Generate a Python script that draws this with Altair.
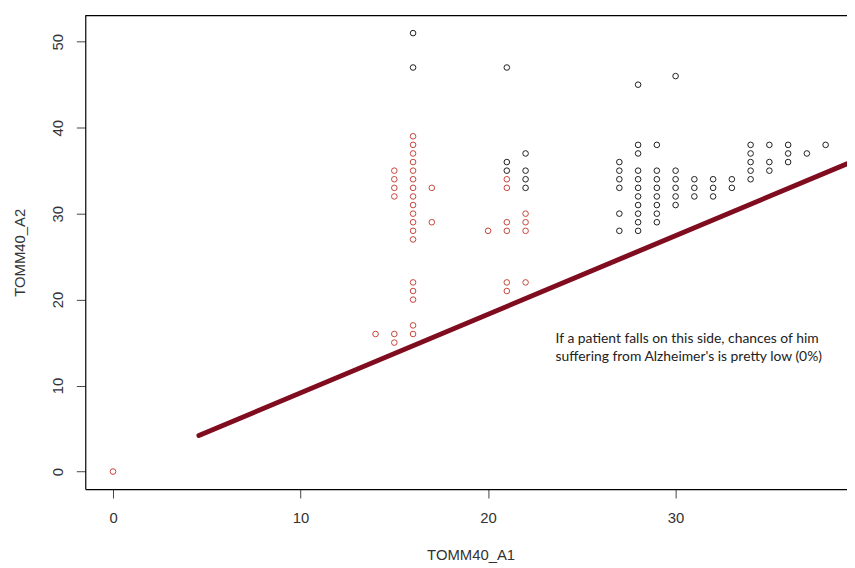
import altair as alt
import pandas as pd

# Red (class 0) points
red_x = [0, 14, 15, 15, 15, 15, 15, 15,
         16, 16, 16, 16, 16, 16, 16, 16, 16, 16, 16, 16, 16,
         16, 16, 16, 16, 16,
         17, 17, 20,
         21, 21, 21, 21, 21, 21,
         22, 22, 22, 22]
red_y = [0, 16, 35, 34, 33, 32, 16, 15,
         39, 38, 37, 36, 35, 34, 33, 32, 31, 30, 29, 28, 27,
         22, 21, 20, 17, 16,
         33, 29, 28,
         34, 33, 29, 28, 22, 21,
         30, 29, 28, 22]

# Black (class 1) points
black_x = [16, 16, 21, 21, 21,
           22, 22, 22, 22,
           27, 27, 27, 27, 27, 27,
           28, 28, 28, 28, 28, 28, 28, 28, 28, 28, 28,
           29, 29, 29, 29, 29, 29, 29, 29,
           30, 30, 30, 30, 30, 30,
           31, 31, 31, 32, 32, 32, 33, 33,
           34, 34, 34, 34, 34,
           35, 35, 35, 36, 36, 36, 37, 38]
black_y = [51, 47, 47, 36, 35,
           37, 35, 34, 33,
           36, 35, 34, 33, 30, 28,
           45, 38, 37, 35, 34, 33, 32, 31, 30, 29, 28,
           38, 35, 34, 33, 32, 31, 30, 29,
           46, 35, 34, 33, 32, 31,
           34, 33, 32, 34, 33, 32, 34, 33,
           38, 37, 36, 35, 34,
           38, 36, 35, 38, 37, 36, 37, 38]

# Threshold line
line_x = [4.58, 39.14]
line_y = [4.19, 35.8]

# Annotation
note_lines = ["If a patient falls on this side, chances of him",
              "suffering from Alzheimer's is pretty low (0%)"]
note_x = [23.6, 23.6]
note_y = [15.0, 12.9]

x_ticks = [0, 10, 20, 30]
y_ticks = [0, 10, 20, 30, 40, 50]

W, H = 769, 478

pts = pd.DataFrame({
    "a1": red_x + black_x,
    "a2": red_y + black_y,
    "grp": ["red"] * len(red_x) + ["black"] * len(black_x),
})
line_df = pd.DataFrame({"a1": line_x, "a2": line_y})
note_df = pd.DataFrame({"a1": note_x, "a2": note_y, "t": note_lines})

xscale = alt.Scale(domain=[-1.48, 39.14], nice=False, zero=False)
yscale = alt.Scale(domain=[-2.04, 53.04], nice=False, zero=False)

xaxis = alt.Axis(values=x_ticks, grid=False, tickSize=9, tickColor="#444",
                 domainColor="black", domainWidth=1.2,
                 labelFont="Liberation Sans", labelFontSize=15, labelColor="#333",
                 labelPadding=13, labelFlush=False,
                 title="TOMM40_A1", titleFont="Liberation Sans", titleFontSize=15,
                 titleFontWeight="normal", titleColor="#333",
                 titleX=389, titleY=71, titleAlign="center", titleBaseline="alphabetic")
yaxis = alt.Axis(values=y_ticks, grid=False, tickSize=9, tickColor="#444",
                 domainColor="black", domainWidth=1.2,
                 labelFont="Liberation Sans", labelFontSize=15, labelColor="#333",
                 labelAngle=270, labelAlign="center", labelBaseline="alphabetic",
                 labelPadding=14, labelFlush=False,
                 title="TOMM40_A2", titleFont="Liberation Sans", titleFontSize=15,
                 titleFontWeight="normal", titleColor="#333", titleAngle=270,
                 titleX=-61, titleY=239, titleAlign="center", titleBaseline="alphabetic")

points = alt.Chart(pts).mark_point(shape="circle", filled=False, size=32, strokeWidth=1, opacity=1).encode(
    x=alt.X("a1:Q", scale=xscale, axis=xaxis),
    y=alt.Y("a2:Q", scale=yscale, axis=yaxis),
    color=alt.Color("grp:N", scale=alt.Scale(domain=["red", "black"], range=["#c4453b", "#1e1e1e"]), legend=None),
)

line = alt.Chart(line_df).mark_line(color="#800d1f", strokeWidth=5, strokeCap="round").encode(
    x=alt.X("a1:Q", scale=xscale),
    y=alt.Y("a2:Q", scale=yscale),
)

note = alt.Chart(note_df).mark_text(align="left", baseline="alphabetic", font="Lato",
                                    fontSize=14, color="#222").encode(
    x=alt.X("a1:Q", scale=xscale),
    y=alt.Y("a2:Q", scale=yscale),
    text="t:N",
)

top_frame = alt.Chart(pd.DataFrame({"d": [0]})).mark_rule(color="black", strokeWidth=1.2).encode(
    x=alt.value(0), x2=alt.value(W), y=alt.value(0)
)

chart = alt.layer(line, points, note, top_frame).properties(
    width=W, height=H,
    autosize=alt.AutoSizeParams(type="none"),
    padding={"left": 78, "top": 5, "right": 0, "bottom": 74},
    background="white",
).configure_view(stroke=None)

chart.save("out.html", embed_options={"renderer": "svg", "actions": False})
